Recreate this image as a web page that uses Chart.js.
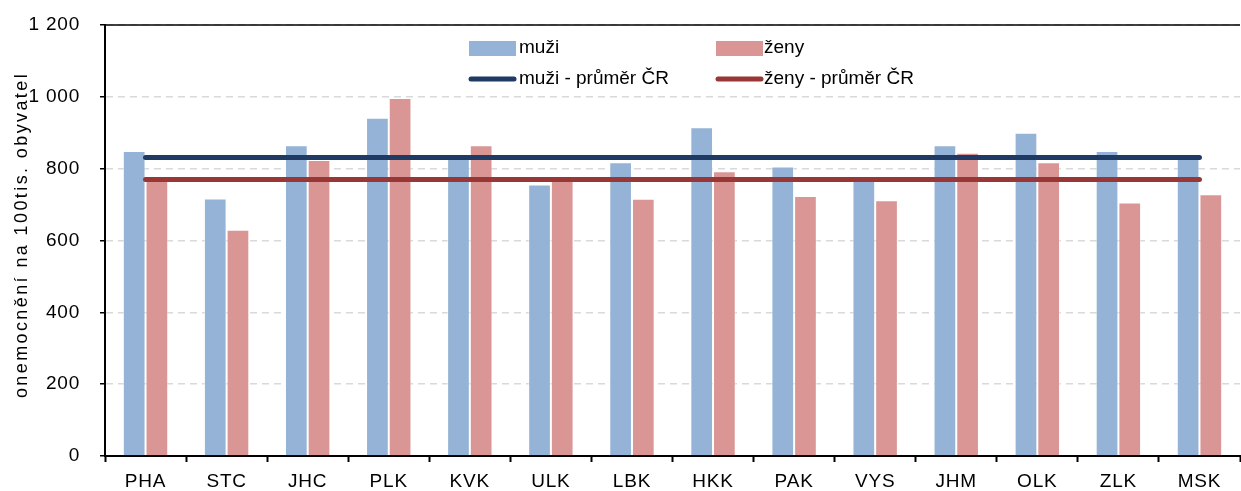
<!DOCTYPE html>
<html>
<head>
<meta charset="utf-8">
<script src="https://cdn.jsdelivr.net/npm/chart.js@4/dist/chart.umd.min.js"></script>
<style>
html,body{margin:0;padding:0;background:#fff;}
#wrap{width:1241px;height:491px;position:relative;}
</style>
</head>
<body>
<div id="wrap"><canvas id="c" width="1241" height="491"></canvas></div>
<script>
const categories = ['PHA','STC','JHC','PLK','KVK','ULK','LBK','HKK','PAK','VYS','JHM','OLK','ZLK','MSK'];
const muzi = [849,717,865,942,828,756,818,915,806,770,865,900,849,828];
const zeny = [767,630,824,997,865,768,716,793,724,712,844,818,706,729];
const muziPrumer = [831,831,831,831,831,831,831,831,831,831,831,831,831,831];
const zenyPrumer = [770,770,770,770,770,770,770,770,770,770,770,770,770,770];
const yTicks = [0,200,400,600,800,1000,1200];
const legendLabels = ['muži','ženy','muži - průměr ČR','ženy - průměr ČR'];
const yTitle = 'onemocnění na 100tis. obyvatel';

const C_MUZI = '#95B3D7', C_ZENY = '#D99694', C_MUZI_L = '#1F3B63', C_ZENY_L = '#983735';
const FONT = '"Liberation Sans", Arial, sans-serif';

const spacingPlugin = {
  id: 'spacing',
  beforeLayout(chart) { chart.ctx.letterSpacing = '0.8px'; },
  beforeDraw(chart) { chart.ctx.letterSpacing = '0.8px'; }
};

const legendPlugin = {
  id: 'customLegend',
  afterDraw(chart) {
    const ctx = chart.ctx;
    ctx.save();
    ctx.letterSpacing = '0px';
    ctx.font = '19px ' + FONT;
    ctx.textBaseline = 'middle';
    ctx.textAlign = 'left';
    const cols = [469, 716];
    const rows = [48, 79];
    ctx.fillStyle = C_MUZI; ctx.fillRect(cols[0], 41, 47, 15);
    ctx.fillStyle = C_ZENY; ctx.fillRect(cols[1], 41, 47, 15);
    ctx.lineCap = 'round'; ctx.lineWidth = 5;
    ctx.strokeStyle = C_MUZI_L; ctx.beginPath(); ctx.moveTo(cols[0]+2, rows[1]); ctx.lineTo(cols[0]+45, rows[1]); ctx.stroke();
    ctx.strokeStyle = C_ZENY_L; ctx.beginPath(); ctx.moveTo(cols[1]+2, rows[1]); ctx.lineTo(cols[1]+45, rows[1]); ctx.stroke();
    ctx.fillStyle = '#000';
    ctx.fillText(legendLabels[0], cols[0]+50, rows[0]);
    ctx.fillText(legendLabels[1], cols[1]+48, rows[0]);
    ctx.fillText(legendLabels[2], cols[0]+50, rows[1]);
    ctx.fillText(legendLabels[3], cols[1]+48, rows[1]);

    ctx.save();
    ctx.letterSpacing = '2.4px';
    ctx.font = '18px ' + FONT;
    ctx.translate(22, 235);
    ctx.rotate(-Math.PI / 2);
    ctx.textAlign = 'center';
    ctx.textBaseline = 'middle';
    ctx.fillText(yTitle, 0, 0);
    ctx.restore();
    ctx.restore();
  }
};

const topBorder = {
  id: 'topBorder',
  afterDatasetsDraw(chart) {
    const a = chart.chartArea, ctx = chart.ctx;
    ctx.save();
    ctx.strokeStyle = '#000'; ctx.lineWidth = 1.5;
    ctx.beginPath(); ctx.moveTo(a.left, a.top); ctx.lineTo(a.right, a.top); ctx.stroke();
    ctx.restore();
  }
};

new Chart(document.getElementById('c'), {
  data: {
    labels: categories,
    datasets: [
      { type: 'line', label: legendLabels[2], data: muziPrumer, borderColor: C_MUZI_L, borderWidth: 5, pointRadius: 0, borderCapStyle: 'round', order: 0 },
      { type: 'line', label: legendLabels[3], data: zenyPrumer, borderColor: C_ZENY_L, borderWidth: 5, pointRadius: 0, borderCapStyle: 'round', order: 0 },
      { type: 'bar', label: legendLabels[0], data: muzi, backgroundColor: C_MUZI, borderColor: 'rgba(255,255,255,0.5)', borderWidth: 1, barPercentage: 1, categoryPercentage: 0.56, order: 1 },
      { type: 'bar', label: legendLabels[1], data: zeny, backgroundColor: C_ZENY, borderColor: 'rgba(255,255,255,0.5)', borderWidth: 1, barPercentage: 1, categoryPercentage: 0.56, order: 1 }
    ]
  },
  options: {
    responsive: false,
    animation: false,
    layout: { padding: { top: 25, right: 1, left: 0, bottom: 0 } },
    plugins: { legend: { display: false }, tooltip: { enabled: false } },
    scales: {
      x: {
        offset: true,
        grid: { offset: true, drawOnChartArea: false, drawTicks: true, tickLength: 6, tickColor: '#000', tickWidth: 2 },
        border: { color: '#000', width: 2 },
        ticks: { color: '#000', font: { family: FONT, size: 19 }, padding: 8 },
        afterFit(s) { s.height = 35; s.paddingLeft = 0; s.paddingRight = 0; }
      },
      y: {
        min: 0, max: 1200,
        afterBuildTicks(s) { s.ticks = yTicks.map(v => ({ value: v })); },
        grid: { color: '#D9D9D9', lineWidth: 1.5, tickLength: 5, tickColor: '#000', tickWidth: 1.5, tickBorderDash: [] },
        border: { color: '#000', width: 2, dash: [7, 5] },
        ticks: {
          color: '#000', font: { family: FONT, size: 19 }, padding: 20,
          callback(v) { return v >= 1000 ? String(v).replace(/(\d)(\d{3})$/, '$1 $2') : String(v); }
        },
        title: { display: false },
        afterFit(s) { s.width = 105; s.paddingTop = 0; s.paddingBottom = 0; }
      }
    }
  },
  plugins: [spacingPlugin, legendPlugin, topBorder]
});
</script>
</body>
</html>
